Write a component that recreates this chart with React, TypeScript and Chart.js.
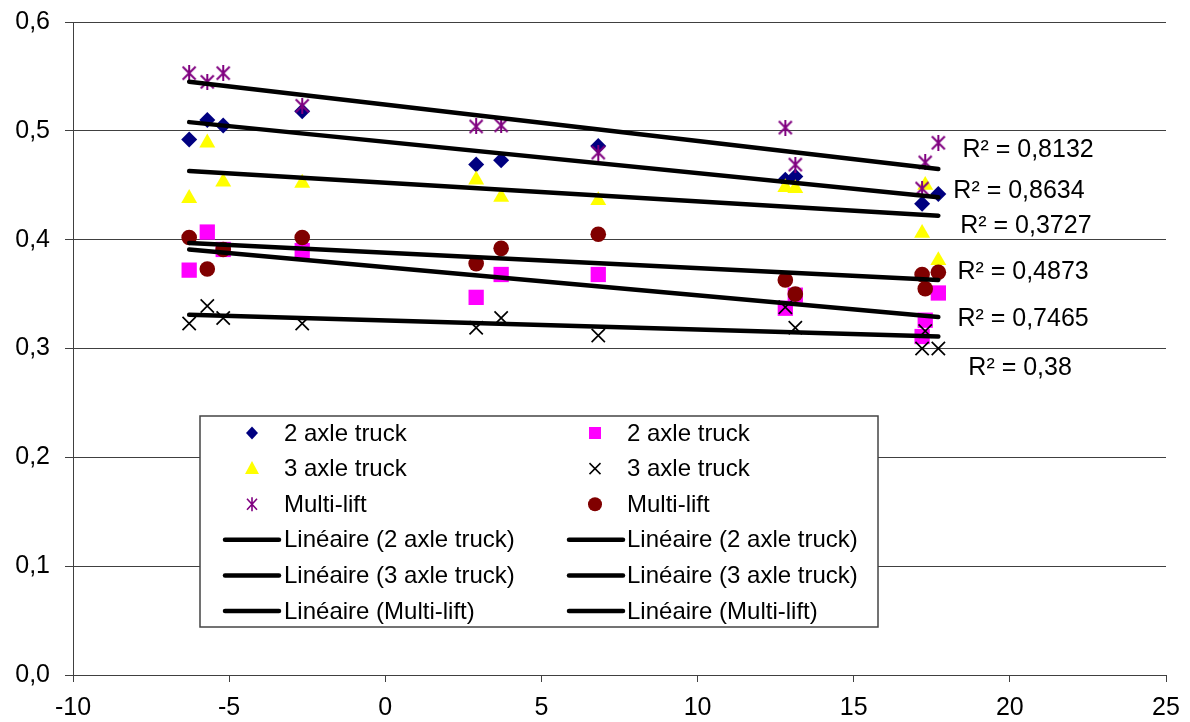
import React, { useEffect, useRef } from 'react';
import { Chart, registerables } from 'chart.js';

Chart.register(...registerables);

// ---- data ----
const xDiamond = [-6.28, -5.7, -5.19, -2.66, 2.91, 3.71, 6.82, 12.81, 13.13, 17.19, 17.71];
const yDiamond = [0.492, 0.51, 0.505, 0.518, 0.469, 0.473, 0.486, 0.455, 0.458, 0.433, 0.442];

const xAll = [-6.28, -5.7, -5.19, -2.66, 2.91, 3.71, 6.82, 12.81, 13.13, 17.19, 17.29, 17.71];
const ySquare = [0.372, 0.407, 0.391, 0.39, 0.347, 0.368, 0.368, 0.337, 0.349, 0.311, 0.326, 0.351];
const yTriangle = [0.438, 0.489, 0.453, 0.452, 0.455, 0.439, 0.436, 0.448, 0.447, 0.406, 0.45, 0.381];
const yCross = [0.323, 0.339, 0.328, 0.323, 0.319, 0.328, 0.312, 0.338, 0.319, 0.3, 0.316, 0.3];
const yStar = [0.553, 0.545, 0.553, 0.523, 0.504, 0.505, 0.48, 0.503, 0.469, 0.447, 0.471, 0.489];
const yCircle = [0.402, 0.373, 0.391, 0.402, 0.378, 0.392, 0.405, 0.363, 0.35, 0.368, 0.355, 0.37];

const trendX = [-6.28, 17.71];
const trendDiamond = [0.508, 0.439];
const trendSquare = [0.391, 0.329];
const trendTriangle = [0.463, 0.422];
const trendCross = [0.331, 0.311];
const trendStar = [0.545, 0.465];
const trendCircle = [0.397, 0.363];

const legendLabels = [
  '2 axle truck', '2 axle truck',
  '3 axle truck', '3 axle truck',
  'Multi-lift', 'Multi-lift',
  'Linéaire (2 axle truck)', 'Linéaire (2 axle truck)',
  'Linéaire (3 axle truck)', 'Linéaire (3 axle truck)',
  'Linéaire (Multi-lift)', 'Linéaire (Multi-lift)',
];
const legendMarkers = ['diamond', 'square', 'triangle', 'cross', 'star', 'circle', 'line', 'line', 'line', 'line', 'line', 'line'];

const r2Texts = ['R² = 0,8132', 'R² = 0,8634', 'R² = 0,3727', 'R² = 0,4873', 'R² = 0,7465', 'R² = 0,38'];
const r2X = [18.48, 18.19, 18.41, 18.32, 18.32, 18.67];
const r2Y = [0.4824, 0.4447, 0.4126, 0.3703, 0.3271, 0.2821];

const FONT = '"Liberation Sans", Arial, sans-serif';
const NAVY = '#000080';
const MAGENTA = '#FF00FF';
const YELLOW = '#FFFF00';
const PURPLE = '#800080';
const MAROON = '#800000';

const pts = (xs: number[], ys: number[]) => ys.map((v, i) => ({ x: xs[i], y: v }));

function makeStar(size: number, lw: number): HTMLCanvasElement {
  const c = document.createElement('canvas');
  c.width = size;
  c.height = size;
  const g = c.getContext('2d')!;
  g.strokeStyle = PURPLE;
  g.lineWidth = lw;
  const m = 1.5;
  g.beginPath();
  g.moveTo(m, m); g.lineTo(size - m, size - m);
  g.moveTo(size - m, m); g.lineTo(m, size - m);
  g.moveTo(size / 2, 0); g.lineTo(size / 2, size);
  g.stroke();
  return c;
}

function drawMarker(ctx: CanvasRenderingContext2D, kind: string, x: number, y: number) {
  ctx.save();
  switch (kind) {
    case 'diamond':
      ctx.fillStyle = NAVY;
      ctx.beginPath();
      ctx.moveTo(x, y - 6.5); ctx.lineTo(x + 6, y); ctx.lineTo(x, y + 6.5); ctx.lineTo(x - 6, y);
      ctx.closePath(); ctx.fill();
      break;
    case 'square':
      ctx.fillStyle = MAGENTA;
      ctx.fillRect(x - 6, y - 6, 12, 12);
      break;
    case 'triangle':
      ctx.fillStyle = YELLOW;
      ctx.beginPath();
      ctx.moveTo(x, y - 7.5); ctx.lineTo(x + 7, y + 5.5); ctx.lineTo(x - 7, y + 5.5);
      ctx.closePath(); ctx.fill();
      break;
    case 'cross':
      ctx.strokeStyle = '#000'; ctx.lineWidth = 1.5;
      ctx.beginPath();
      ctx.moveTo(x - 5.5, y - 5.5); ctx.lineTo(x + 5.5, y + 5.5);
      ctx.moveTo(x + 5.5, y - 5.5); ctx.lineTo(x - 5.5, y + 5.5);
      ctx.stroke();
      break;
    case 'star':
      ctx.strokeStyle = PURPLE; ctx.lineWidth = 1.6;
      ctx.beginPath();
      ctx.moveTo(x - 5, y - 5.5); ctx.lineTo(x + 5, y + 5.5);
      ctx.moveTo(x + 5, y - 5.5); ctx.lineTo(x - 5, y + 5.5);
      ctx.moveTo(x, y - 7); ctx.lineTo(x, y + 7);
      ctx.stroke();
      break;
    case 'circle':
      ctx.fillStyle = MAROON;
      ctx.beginPath(); ctx.arc(x, y, 7, 0, Math.PI * 2); ctx.fill();
      break;
  }
  ctx.restore();
}

const overlayPlugin = {
  id: 'overlay',
  afterDatasetsDraw(chart: any) {
    const { ctx, scales } = chart;
    const xs = scales.x;
    const ys = scales.y;
    ctx.save();
    // R² labels
    ctx.font = `25px ${FONT}`;
    ctx.fillStyle = '#000';
    ctx.textAlign = 'left';
    ctx.textBaseline = 'middle';
    r2Texts.forEach((t, i) => {
      ctx.fillText(t, xs.getPixelForValue(r2X[i]), ys.getPixelForValue(r2Y[i]));
    });

    // legend box
    const bx = 200, by = 416, bw = 678, bh = 211;
    ctx.fillStyle = '#fff';
    ctx.fillRect(bx, by, bw, bh);
    ctx.strokeStyle = '#444';
    ctx.lineWidth = 1.5;
    ctx.strokeRect(bx, by, bw, bh);

    const rowY0 = 433;
    const rowH = 35.6;
    const markerX = [252, 595];
    const lineX = [[225, 279], [569, 623]];
    const textX = [284, 627];
    ctx.font = `24px ${FONT}`;
    legendLabels.forEach((lab, i) => {
      const col = i % 2;
      const row = Math.floor(i / 2);
      const yy = rowY0 + row * rowH;
      const kind = legendMarkers[i];
      if (kind === 'line') {
        ctx.save();
        ctx.strokeStyle = '#000';
        ctx.lineWidth = 4.5;
        ctx.lineCap = 'round';
        ctx.beginPath();
        ctx.moveTo(lineX[col][0], yy);
        ctx.lineTo(lineX[col][1], yy);
        ctx.stroke();
        ctx.restore();
      } else {
        drawMarker(ctx, kind, markerX[col], yy);
      }
      ctx.fillStyle = '#000';
      ctx.textAlign = 'left';
      ctx.textBaseline = 'middle';
      ctx.fillText(lab, textX[col], yy + 1);
    });
    ctx.restore();
  },
};

export default function App() {
  const ref = useRef<HTMLCanvasElement | null>(null);

  useEffect(() => {
    if (!ref.current) return;
    const star = makeStar(16, 2);
    const trendLine = (data: number[], label: string) => ({
      type: 'line' as const,
      label,
      data: pts(trendX, data),
      borderColor: '#000',
      borderWidth: 4.5,
      borderCapStyle: 'round' as const,
      pointRadius: 0,
      showLine: true,
      fill: false,
      order: 0,
    });
    const chart = new Chart(ref.current, {
      type: 'scatter',
      data: {
        datasets: [
          { label: '2 axle truck', data: pts(xDiamond, yDiamond), pointStyle: 'rectRot', pointRadius: 8, backgroundColor: NAVY, borderColor: NAVY, borderWidth: 0, order: 6 },
          { label: '2 axle truck', data: pts(xAll, ySquare), pointStyle: 'rect', pointRadius: 10.8, backgroundColor: MAGENTA, borderColor: MAGENTA, borderWidth: 0, order: 5 },
          { label: '3 axle truck', data: pts(xAll, yTriangle), pointStyle: 'triangle', pointRadius: 9.2, backgroundColor: YELLOW, borderColor: YELLOW, borderWidth: 0, order: 4 },
          { label: '3 axle truck', data: pts(xAll, yCross), pointStyle: 'crossRot', pointRadius: 9.4, backgroundColor: '#000', borderColor: '#000', borderWidth: 1.7, order: 3 },
          { label: 'Multi-lift', data: pts(xAll, yStar), pointStyle: star, pointRadius: 8, backgroundColor: PURPLE, borderColor: PURPLE, borderWidth: 0, order: 2 },
          { label: 'Multi-lift', data: pts(xAll, yCircle), pointStyle: 'circle', pointRadius: 7.8, backgroundColor: MAROON, borderColor: MAROON, borderWidth: 0, order: 1 },
          trendLine(trendDiamond, 'Linéaire (2 axle truck)'),
          trendLine(trendSquare, 'Linéaire (2 axle truck)'),
          trendLine(trendTriangle, 'Linéaire (3 axle truck)'),
          trendLine(trendCross, 'Linéaire (3 axle truck)'),
          trendLine(trendStar, 'Linéaire (Multi-lift)'),
          trendLine(trendCircle, 'Linéaire (Multi-lift)'),
        ] as any,
      },
      options: {
        responsive: false,
        animation: false,
        layout: { padding: { left: 0, right: 24, top: 22, bottom: 0 } },
        plugins: {
          legend: { display: false },
          tooltip: { enabled: false },
        },
        scales: {
          x: {
            type: 'linear',
            min: -10,
            max: 25,
            ticks: {
              stepSize: 5,
              padding: 11,
              color: '#000',
              font: { family: FONT, size: 25 },
            },
            grid: { drawOnChartArea: false, drawTicks: true, tickLength: 7, color: '#404040', lineWidth: 1 },
            border: { display: true, color: '#404040', width: 1 },
            afterFit: (s: any) => { s.height = 47; s.paddingLeft = 0; s.paddingRight = 0; },
          },
          y: {
            type: 'linear',
            min: 0,
            max: 0.6,
            ticks: {
              stepSize: 0.1,
              padding: 15,
              color: '#000',
              font: { family: FONT, size: 25 },
              callback: (v: any) => Number(v).toFixed(1).replace('.', ','),
            },
            grid: { drawOnChartArea: true, drawTicks: true, tickLength: 8, color: '#404040', lineWidth: 1 },
            border: { display: true, color: '#404040', width: 1 },
            afterFit: (s: any) => { s.width = 73; s.paddingTop = 0; s.paddingBottom = 0; },
          },
        },
      },
      plugins: [overlayPlugin],
    } as any);
    return () => chart.destroy();
  }, []);

  return (
    <div style={{ position: 'absolute', left: 0, top: 0, width: 1190, height: 722, background: '#fff' }}>
      <canvas ref={ref} width={1190} height={722} style={{ display: 'block' }} />
    </div>
  );
}
